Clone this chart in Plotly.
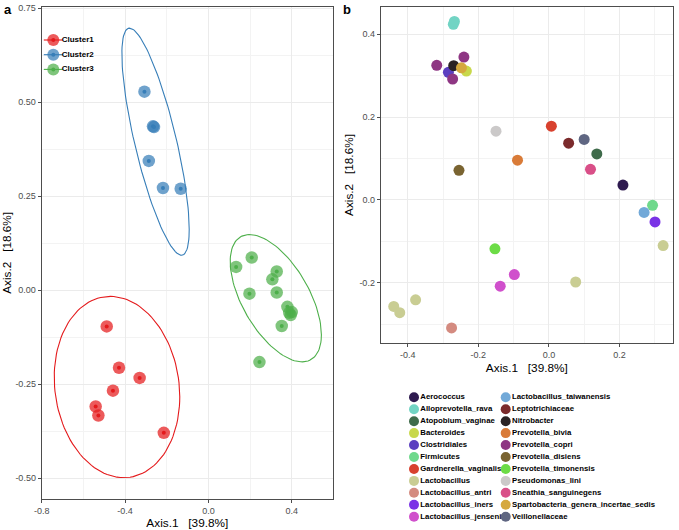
import numpy as np
import plotly.graph_objects as go

W, H = 679, 530

# ---------------- Panel a data ----------------
clusters = ["Cluster1", "Cluster2", "Cluster3"]
cluster_colors = ["#e41a1c", "#377eb8", "#4daf4a"]
c1_x = [-0.488, -0.429, -0.330, -0.458, -0.541, -0.528, -0.214]
c1_y = [-0.096, -0.206, -0.233, -0.267, -0.309, -0.333, -0.379]
c2_x = [-0.307, -0.266, -0.261, -0.286, -0.218, -0.133]
c2_y = [0.528, 0.436, 0.434, 0.344, 0.272, 0.270]
c3_x = [0.133, 0.208, 0.328, 0.307, 0.197, 0.328, 0.379, 0.388, 0.395, 0.400, 0.352, 0.245]
c3_y = [0.062, 0.087, 0.050, 0.029, -0.009, -0.006, -0.044, -0.060, -0.066, -0.058, -0.095, -0.191]
cluster_x = [c1_x, c2_x, c3_x]
cluster_y = [c1_y, c2_y, c3_y]

# ---------------- Panel b data ----------------
taxa = ["Aerococcus", "Alloprevotella_rava", "Atopobium_vaginae", "Bacteroides",
        "Clostridiales", "Firmicutes", "Gardnerella_vaginalis", "Lactobacillus",
        "Lactobacillus_antri", "Lactobacillus_iners", "Lactobacillus_jensenii",
        "Lactobacillus_taiwanensis", "Leptotrichiaceae", "Nitrobacter", "Prevotella_bivia",
        "Prevotella_copri", "Prevotella_disiens", "Prevotella_timonensis", "Pseudomonas_lini",
        "Sneathia_sanguinegens", "Spartobacteria_genera_incertae_sedis", "Veillonellaceae"]
taxa_colors = ["#2e1a4f", "#72d4c4", "#3f6b4b", "#c8d84b", "#5b3fc0", "#6fd98c", "#d8412e",
               "#c9cd93", "#d48b80", "#7a33e6", "#d050cc", "#72a9d8", "#7b2b2c", "#2b2324",
               "#d97b38", "#8e3683", "#7a6431", "#6cdc46", "#cbc9c9", "#d94f88", "#d5a83e",
               "#5f6682"]
b_taxon = ["Aerococcus", "Alloprevotella_rava", "Alloprevotella_rava", "Atopobium_vaginae",
           "Bacteroides", "Clostridiales", "Firmicutes", "Gardnerella_vaginalis",
           "Lactobacillus", "Lactobacillus", "Lactobacillus", "Lactobacillus", "Lactobacillus",
           "Lactobacillus_antri", "Lactobacillus_iners", "Lactobacillus_jensenii",
           "Lactobacillus_jensenii", "Lactobacillus_taiwanensis", "Leptotrichiaceae",
           "Nitrobacter", "Prevotella_bivia", "Prevotella_copri", "Prevotella_copri",
           "Prevotella_copri", "Prevotella_disiens", "Prevotella_timonensis", "Pseudomonas_lini",
           "Sneathia_sanguinegens", "Spartobacteria_genera_incertae_sedis", "Veillonellaceae"]
b_x = [0.210, -0.271, -0.268, 0.136, -0.234, -0.285, 0.294, 0.007,
       0.324, 0.076, -0.378, -0.440, -0.423, -0.276, 0.301, -0.098, -0.138, 0.270, 0.056,
       -0.270, -0.089, -0.241, -0.318, -0.273, -0.255, -0.153, -0.150, 0.118, -0.248, 0.100]
b_y = [0.036, 0.424, 0.431, 0.111, 0.311, 0.308, -0.013, 0.178,
       -0.110, -0.198, -0.241, -0.257, -0.272, -0.309, -0.053, -0.180, -0.208, -0.030, 0.137,
       0.324, 0.096, 0.345, 0.325, 0.292, 0.0715, -0.118, 0.166, 0.074, 0.319, 0.146]

a_xticks = [-0.8, -0.4, 0.0, 0.4]
a_xticktext = ["-0.8", "-0.4", "0.0", "0.4"]
a_yticks = [-0.5, -0.25, 0.0, 0.25, 0.5, 0.75]
a_yticktext = ["-0.50", "-0.25", "0.00", "0.25", "0.50", "0.75"]
b_xticks = [-0.4, -0.2, 0.0, 0.2]
b_xticktext = ["-0.4", "-0.2", "0.0", "0.2"]
b_yticks = [-0.2, 0.0, 0.2, 0.4]
b_yticktext = ["-0.2", "0.0", "0.2", "0.4"]
x_title = "Axis.1   [39.8%]"
y_title = "Axis.2   [18.6%]"


# --------------- stat_ellipse (type "t", level 0.95) ---------------
def cov_trob(X, nu=5, maxit=25, tol=0.01):
    X = np.asarray(X, float)
    n, p = X.shape
    loc = X.mean(axis=0)
    w = np.ones(n)
    Xc = X - loc
    for _ in range(maxit):
        w0 = w
        Xc = X - loc
        A = np.sqrt(w / w.sum())[:, None] * Xc
        _, d, Vt = np.linalg.svd(A, full_matrices=False)
        wX = Xc @ Vt.T @ np.diag(1.0 / d)
        Q = (wX ** 2).sum(axis=1)
        w = (nu + p) / (nu + Q)
        loc = (w[:, None] * X).sum(axis=0) / w.sum()
        if np.all(np.abs(w - w0) < tol):
            break
    cov = (np.sqrt(w)[:, None] * Xc).T @ (np.sqrt(w)[:, None] * Xc) / n
    return loc, cov


def stat_ellipse(xs, ys, level=0.95, segments=120):
    X = np.column_stack([xs, ys])
    n = len(xs)
    loc, cov = cov_trob(X)
    dfd = n - 1
    qf = (dfd / 2.0) * ((1 - level) ** (-2.0 / dfd) - 1)
    radius = np.sqrt(2 * qf)
    ang = np.linspace(0, 2 * np.pi, segments + 1)
    circ = np.column_stack([np.cos(ang), np.sin(ang)])
    L = np.linalg.cholesky(cov)
    e = loc + radius * (circ @ L.T)
    return e[:, 0], e[:, 1]


FONT = "Liberation Sans"
fig = go.Figure()

# Panel a
for name, col, xs, ys in zip(clusters, cluster_colors, cluster_x, cluster_y):
    ex, ey = stat_ellipse(xs, ys)
    fig.add_trace(go.Scatter(x=ex, y=ey, mode="lines", line=dict(color=col, width=1.1),
                             showlegend=False, hoverinfo="skip", xaxis="x", yaxis="y"))
    fig.add_trace(go.Scatter(x=xs, y=ys, mode="markers",
                             marker=dict(color=col, size=12.5, opacity=0.72, line=dict(width=0)),
                             showlegend=False, name=name, xaxis="x", yaxis="y"))
    fig.add_trace(go.Scatter(x=xs, y=ys, mode="markers",
                             marker=dict(color=col, size=4, line=dict(width=0)),
                             showlegend=False, name=name, xaxis="x", yaxis="y"))

# Panel b
for t, col in zip(taxa, taxa_colors):
    xs = [x for x, tt in zip(b_x, b_taxon) if tt == t]
    ys = [y for y, tt in zip(b_y, b_taxon) if tt == t]
    fig.add_trace(go.Scatter(x=xs, y=ys, mode="markers", name=t,
                             marker=dict(color=col, size=11, line=dict(width=0)),
                             showlegend=False, xaxis="x2", yaxis="y2"))

# ---- Custom legends on a pixel-unit overlay axis ----
# legend a (inset)
la_x0, la_y0, la_dy = 53.3, 40.0, 14.7
for i, (name, col) in enumerate(zip(clusters, cluster_colors)):
    yy = la_y0 + i * la_dy
    fig.add_trace(go.Scatter(x=[la_x0 - 9.5, la_x0 + 9.5], y=[yy, yy], mode="lines",
                             line=dict(color=col, width=1.1), showlegend=False,
                             hoverinfo="skip", xaxis="x3", yaxis="y3"))
    fig.add_trace(go.Scatter(x=[la_x0], y=[yy], mode="markers",
                             marker=dict(color=col, size=12, opacity=0.72, line=dict(width=0)),
                             showlegend=False, hoverinfo="skip", xaxis="x3", yaxis="y3"))
    fig.add_trace(go.Scatter(x=[la_x0], y=[yy], mode="markers",
                             marker=dict(color=col, size=4, line=dict(width=0)),
                             showlegend=False, hoverinfo="skip", xaxis="x3", yaxis="y3"))
    fig.add_trace(go.Scatter(x=[la_x0 + 8.4], y=[yy], mode="text", text=[name],
                             textposition="middle right",
                             textfont=dict(family=FONT, size=8, color="black", weight="bold"),
                             showlegend=False, hoverinfo="skip", xaxis="x3", yaxis="y3"))

# legend b (two columns)
lb_x0, lb_y0, lb_dx, lb_dy, nrows = 414.0, 397.3, 91.7, 11.94, 11
for i, (t, col) in enumerate(zip(taxa, taxa_colors)):
    cx = lb_x0 + (i // nrows) * lb_dx
    cy = lb_y0 + (i % nrows) * lb_dy
    fig.add_trace(go.Scatter(x=[cx], y=[cy], mode="markers",
                             marker=dict(color=col, size=10, line=dict(width=0)),
                             showlegend=False, hoverinfo="skip", xaxis="x3", yaxis="y3"))
    fig.add_trace(go.Scatter(x=[cx + 6.3], y=[cy], mode="text", text=[t],
                             textposition="middle right",
                             textfont=dict(family=FONT, size=7.8, color="black", weight="bold"),
                             showlegend=False, hoverinfo="skip", xaxis="x3", yaxis="y3"))


def px_dom_x(a, b):
    return [a / W, b / W]


def px_dom_y(top, bottom):
    return [1 - bottom / H, 1 - top / H]


axis_common = dict(showline=True, mirror=True, linecolor="#4d4d4d", linewidth=1,
                   ticks="outside", ticklen=3, tickwidth=1, tickcolor="#4d4d4d",
                   showgrid=True, gridcolor="#ebebeb", gridwidth=1, zeroline=False,
                   tickfont=dict(family=FONT, size=9, color="#4d4d4d"),
                   automargin=False)

fig.update_layout(
    width=W, height=H,
    margin=dict(l=0, r=0, t=0, b=0),
    paper_bgcolor="white", plot_bgcolor="rgba(0,0,0,0)",
    font=dict(family=FONT),
    showlegend=False,
    xaxis=dict(domain=px_dom_x(41.7, 333.0), range=[-0.8, 0.598], anchor="y",
               tickvals=a_xticks, ticktext=a_xticktext,
               minor=dict(dtick=0.2, tick0=0, showgrid=True, gridcolor="#f3f3f3", gridwidth=0.6, ticks=""),
               title=dict(text=x_title, font=dict(family=FONT, size=11.8, color="black"), standoff=4),
               **axis_common),
    yaxis=dict(domain=px_dom_y(6.7, 499.0), range=[-0.555, 0.754], anchor="x",
               tickvals=a_yticks, ticktext=a_yticktext,
               minor=dict(dtick=0.125, tick0=0, showgrid=True, gridcolor="#f3f3f3", gridwidth=0.6, ticks=""),
               title=dict(text=y_title, font=dict(family=FONT, size=11.8, color="black"), standoff=3),
               **axis_common),
    xaxis2=dict(domain=px_dom_x(380.7, 673.0), range=[-0.477, 0.352], anchor="y2",
                tickvals=b_xticks, ticktext=b_xticktext,
                minor=dict(dtick=0.1, tick0=0, showgrid=True, gridcolor="#f3f3f3", gridwidth=0.6, ticks=""),
                title=dict(text=x_title, font=dict(family=FONT, size=11.8, color="black"), standoff=4),
                **axis_common),
    yaxis2=dict(domain=px_dom_y(6.7, 343.3), range=[-0.346, 0.4665], anchor="x2",
                tickvals=b_yticks, ticktext=b_yticktext,
                minor=dict(dtick=0.1, tick0=0, showgrid=True, gridcolor="#f3f3f3", gridwidth=0.6, ticks=""),
                title=dict(text=y_title, font=dict(family=FONT, size=11.8, color="black"), standoff=3),
                **axis_common),
    xaxis3=dict(domain=[0, 1], range=[0, W], visible=False, fixedrange=True, anchor="y3"),
    yaxis3=dict(domain=[0, 1], range=[H, 0], visible=False, fixedrange=True, anchor="x3"),
    annotations=[
        dict(text="<b>a</b>", x=2 / W, y=1 - 0 / H, xref="paper", yref="paper",
             xanchor="left", yanchor="top", showarrow=False,
             font=dict(family=FONT, size=13, color="black")),
        dict(text="<b>b</b>", x=341 / W, y=1 - 0 / H, xref="paper", yref="paper",
             xanchor="left", yanchor="top", showarrow=False,
             font=dict(family=FONT, size=13, color="black")),
    ],
)

fig.write_html("out.html", config={"displayModeBar": False},
               post_script="document.body.style.margin='0px';document.body.style.padding='0px';")
